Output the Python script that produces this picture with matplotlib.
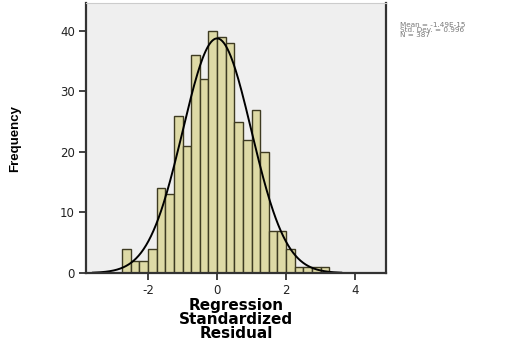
import matplotlib
matplotlib.use('Agg')
import matplotlib.pyplot as plt
import numpy as np

# histogram data (bin width 0.25)
bin_start = -2.75
bin_width = 0.25
counts = [4, 2, 2, 4, 14, 13, 26, 21, 36, 32, 40, 39,
          38, 25, 22, 27, 20, 7, 7, 4, 1, 1, 1, 1]
mean = 0.0
std_dev = 0.996
n_total = 387
stats_lines = ["Mean = -1.49E-15", "Std. Dev. = 0.996", "N = 387"]
xticks = [-2, 0, 2, 4]
yticks = [0, 10, 20, 30, 40]

fig = plt.figure(figsize=(5.07, 3.47), dpi=100)
ax = fig.add_axes([0.1696, 0.2133, 0.592, 0.778])
ax.set_facecolor('#efefef')

edges = bin_start + bin_width * np.arange(len(counts) + 1)
ax.bar(edges[:-1], counts, width=bin_width, align='edge',
       color='#dedaa6', edgecolor='#3e3b22', linewidth=1.0)

# normal curve scaled to counts
xs = np.linspace(-3.6, 3.6, 300)
ys = n_total * bin_width / (std_dev * np.sqrt(2 * np.pi)) * np.exp(-0.5 * ((xs - mean) / std_dev) ** 2)
ax.plot(xs, ys, color='black', linewidth=1.4)

ax.set_xlim(-3.8, 4.9)
ax.set_ylim(0, 44.6)
ax.set_xticks(xticks)
ax.set_xticklabels([str(t) for t in xticks])
ax.set_yticks(yticks)
ax.set_yticklabels([str(t) for t in yticks])
ax.tick_params(axis='both', direction='out', length=5, width=1.2, colors='#222222',
               labelsize=8.5, pad=3)

for side in ['left', 'right', 'bottom']:
    ax.spines[side].set_color('#333333')
    ax.spines[side].set_linewidth(1.6)
ax.spines['top'].set_color('#cccccc')

ax.set_xlabel("Regression\nStandardized\nResidual", fontsize=11, fontweight='bold',
              linespacing=0.88, labelpad=1)
ax.set_ylabel("Frequency", fontsize=9.5, fontweight='bold',
              family=['Liberation Sans', 'DejaVu Sans'])
ax.yaxis.set_label_coords(-0.217, 0.5)

fig.text(0.789, 0.937, "\n".join(stats_lines), fontsize=5.2, color='#777777',
         va='top', ha='left', linespacing=0.85)

fig.savefig('out.png', dpi=100)
